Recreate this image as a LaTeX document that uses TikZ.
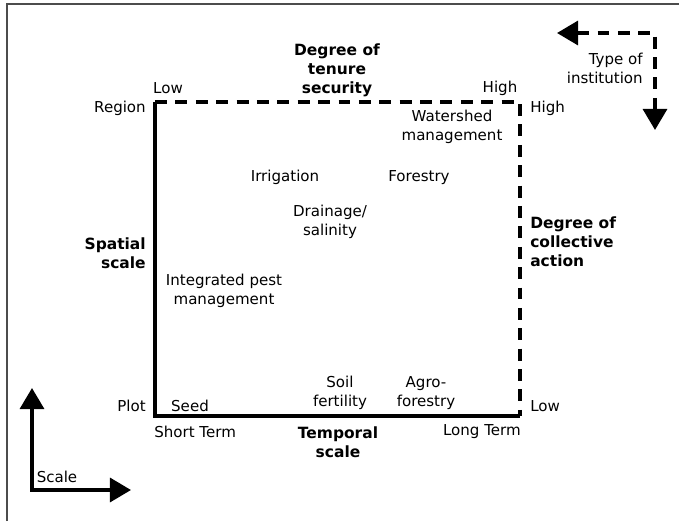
\documentclass[tikz,border=0pt]{standalone}
\usepackage{fontspec}
\setmainfont{DejaVu Sans}
\usetikzlibrary{arrows.meta}
\tikzset{
  lbl/.style={font=\fontsize{10.7}{13.5}\selectfont, inner sep=0pt, align=center},
  headlbl/.style={lbl, font=\bfseries\fontsize{11}{13.5}\selectfont},
  axis/.style={line width=2.7pt},
  dashaxis/.style={axis, dash pattern=on 8.5pt off 6pt},
  bigtip/.tip={Triangle[length=15pt,width=17pt]}
}
\begin{document}
\begin{tikzpicture}[x=0.025cm,y=-0.025cm]
    \useasboundingbox (0,0) rectangle (679,521);
    % Frame
    \draw[black!70, line width=1.3pt] (7,521) -- (7,4) -- (679,4);
    % Corners of the box
    \coordinate (ll) at (155,416);
    \coordinate (ul) at (155,102);
    \coordinate (ur) at (520,102);
    \coordinate (lr) at (520,416);
    \draw[axis, line join=miter] (ul) -- (ll) -- (lr);
    \draw[dashaxis] (ul) -- (ur) -- (lr);
    % Axis labels
    \node[headlbl] (tenure) at (337,70) {Degree of\\tenure\\security};
    \node[lbl] (lowT) at (168,88) {Low};
    \node[lbl] (highT) at (500,88) {High};
    \node[lbl, anchor=east] (region) at (146,108) {Region};
    \node[lbl, anchor=east] (plot) at (146,406) {Plot};
    \node[headlbl, align=right, anchor=east] (spatial) at (146,253) {Spatial\\scale};
    \node[lbl, anchor=west] (highR) at (530,108) {High};
    \node[lbl, anchor=west] (lowR) at (530,406) {Low};
    \node[headlbl, align=left, anchor=west] (collective) at (530,242) {Degree of\\collective\\action};
    \node[lbl, anchor=west] (short) at (154,432) {Short Term};
    \node[lbl, anchor=east] (long) at (521,432) {Long Term};
    \node[headlbl] (temporal) at (338,442) {Temporal\\scale};
    % Institutions
    \node[lbl] (watershed) at (452,127) {Watershed\\management};
    \node[lbl] (irrigation) at (285,177) {Irrigation};
    \node[lbl] (forestry) at (419,178) {Forestry};
    \node[lbl] (drainage) at (330,222) {Drainage/\\salinity};
    \node[lbl] (pest) at (224,291) {Integrated pest\\management};
    \node[lbl] (seed) at (190,406) {Seed};
    \node[lbl] (soil) at (340,393) {Soil\\fertility};
    \node[lbl] (agro) at (426,393) {Agro-\\forestry};
    % Type of institution
    \node[lbl, align=right, anchor=east] (type) at (643,68) {Type of\\institution};
    \coordinate (typeL) at (557,33);
    \coordinate (typeC) at (655,33);
    \coordinate (typeD) at (655,130);
    \draw[dashaxis, bigtip-bigtip] (typeL) -- (typeC) -- (typeD);
    % Scale
    \coordinate (scU) at (32,388);
    \coordinate (scC) at (32,490);
    \coordinate (scR) at (131,490);
    \draw[axis, bigtip-bigtip] (scU) -- (scC) -- (scR);
    \node[lbl] (scale) at (57,477) {Scale};
\end{tikzpicture}
\end{document}
